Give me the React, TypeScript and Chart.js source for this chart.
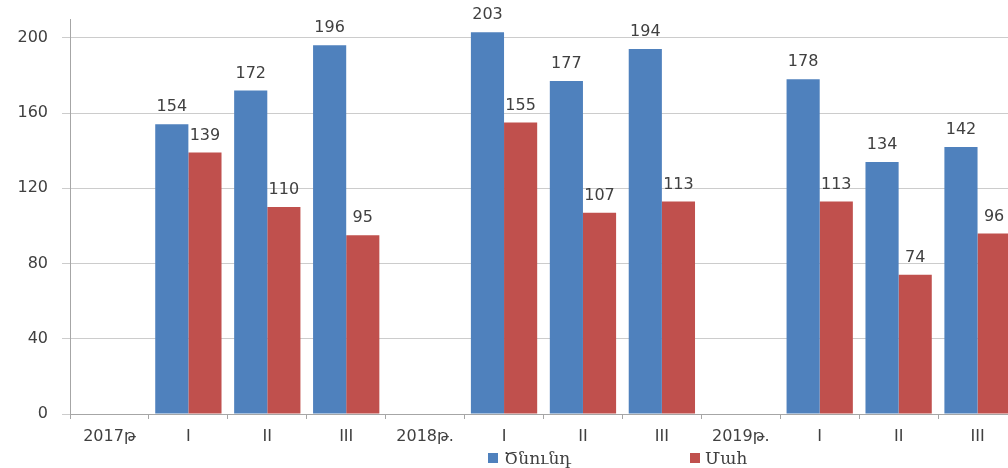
import React, { useEffect, useRef } from "react";
import { Chart, registerables } from "chart.js";
Chart.register(...registerables);

const categories = ["2017թ", "I", "II", "III", "2018թ.", "I", "II", "III", "2019թ.", "I", "II", "III"];
const births: (number | null)[] = [null, 154, 172, 196, null, 203, 177, 194, null, 178, 134, 142];
const deaths: (number | null)[] = [null, 139, 110, 95, null, 155, 107, 113, null, 113, 74, 96];
const yTicks = [0, 40, 80, 120, 160, 200];
const seriesNames = ["Ծնունդ", "Մահ"];
const seriesColors = ["#4F81BD", "#C0504D"];

const TEXT = "#404040";

const dataLabels = {
  id: "dataLabels",
  afterDatasetsDraw(chart: any) {
    const ctx = chart.ctx;
    ctx.save();
    ctx.font = "16px 'DejaVu Sans'";
    ctx.fillStyle = TEXT;
    ctx.textAlign = "center";
    ctx.textBaseline = "middle";
    chart.data.datasets.forEach((ds: any, i: number) => {
      const meta = chart.getDatasetMeta(i);
      meta.data.forEach((bar: any, j: number) => {
        const v = ds.data[j];
        if (v === null || v === undefined) return;
        ctx.fillText(String(v), bar.x, bar.y - 17);
      });
    });
    ctx.restore();
  },
};

export default function App() {
  const ref = useRef<HTMLCanvasElement>(null);
  useEffect(() => {
    if (!ref.current) return;
    const chart = new Chart(ref.current, {
      type: "bar",
      data: {
        labels: categories,
        datasets: [
          { label: seriesNames[0], data: births as any, backgroundColor: seriesColors[0], categoryPercentage: 0.84, barPercentage: 1.0 },
          { label: seriesNames[1], data: deaths as any, backgroundColor: seriesColors[1], categoryPercentage: 0.84, barPercentage: 1.0 },
        ],
      },
      options: {
        responsive: false,
        animation: false,
        devicePixelRatio: 1,
        layout: { padding: { top: 19, right: 1, left: 0, bottom: 0 } },
        plugins: { legend: { display: false }, tooltip: { enabled: false } },
        scales: {
          x: {
            grid: { drawOnChartArea: false, drawTicks: true, tickLength: 5, offset: true, color: "#a6a6a6" },
            border: { color: "#a6a6a6" },
            ticks: { color: TEXT, font: { family: "'DejaVu Sans'", size: 16 }, padding: 8, maxRotation: 0, autoSkip: false },
            afterFit: (s: any) => { s.height = 54; s.paddingLeft = 0; s.paddingRight = 0; },
          },
          y: {
            min: 0,
            max: 210,
            afterBuildTicks: (s: any) => { s.ticks = yTicks.map((v) => ({ value: v })); },
            grid: { color: "#cccccc", tickLength: 8, drawTicks: true },
            border: { color: "#a6a6a6" },
            ticks: { color: TEXT, font: { family: "'DejaVu Sans'", size: 16 }, padding: 14 },
            afterFit: (s: any) => { s.width = 70; s.paddingTop = 0; s.paddingBottom = 0; },
          },
        },
      },
      plugins: [dataLabels],
    });
    return () => chart.destroy();
  }, []);

  const legendText: React.CSSProperties = {
    position: "absolute",
    top: 447,
    fontFamily: "'DejaVu Serif', serif",
    fontSize: 17,
    color: TEXT,
    lineHeight: "22px",
    whiteSpace: "nowrap",
  };
  const sq = (left: number, color: string): React.CSSProperties => ({
    position: "absolute",
    left,
    top: 453,
    width: 10,
    height: 10,
    background: color,
  });

  return (
    <div style={{ position: "fixed", left: 0, top: 0, width: 1008, height: 468, overflow: "hidden", background: "#fff" }}>
      <canvas ref={ref} width={1018} height={468} style={{ position: "absolute", left: 0, top: 0 }} />
      <div style={sq(488, seriesColors[0])} />
      <div style={{ ...legendText, left: 504 }}>{seriesNames[0]}</div>
      <div style={sq(690, seriesColors[1])} />
      <div style={{ ...legendText, left: 705 }}>{seriesNames[1]}</div>
    </div>
  );
}
